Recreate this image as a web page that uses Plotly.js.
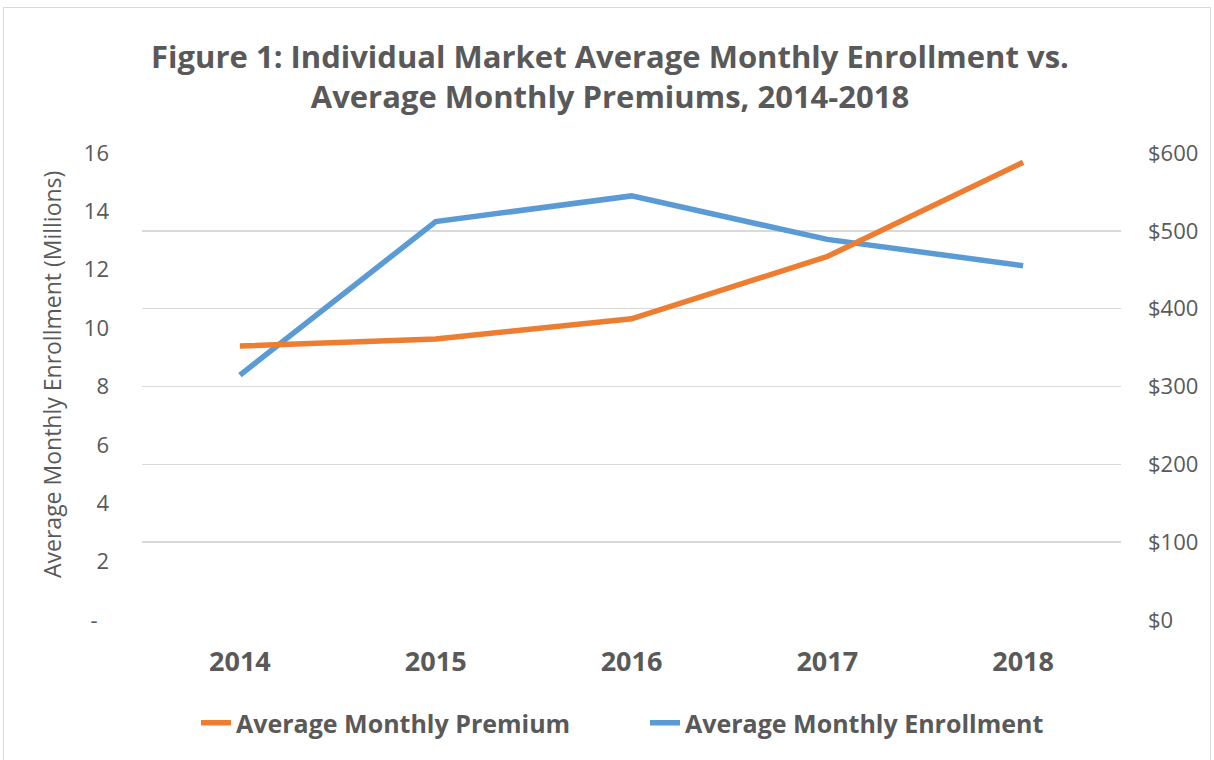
<!DOCTYPE html>
<html>
<head>
<meta charset="utf-8">
<script src="https://cdn.plot.ly/plotly-3.0.1.min.js"></script>
<style>
  html, body { margin: 0; padding: 0; background: #ffffff; }
  #wrap { position: relative; width: 1214px; height: 760px; }
  #chart { position: absolute; left: 0; top: 0; width: 1214px; height: 760px; }
  #frame { position: absolute; left: 3px; top: 7px; width: 1208px; height: 760px; border: 1px solid #d9d9d9; box-sizing: border-box; pointer-events: none; }
</style>
</head>
<body>
<div id="wrap">
  <div id="chart"></div>
  <div id="frame"></div>
</div>
<script>
const years = ["2014", "2015", "2016", "2017", "2018"];
const enrollment = [8.39, 13.65, 14.53, 13.04, 12.14];   // millions (left axis)
const premium = [352, 361, 387, 467, 588];               // dollars (right axis)
const leftTickVals = [0, 2, 4, 6, 8, 10, 12, 14, 16];
const leftTickText = ["-\u00a0\u00a0", "2", "4", "6", "8", "10", "12", "14", "16"];
const rightTickVals = [0, 100, 200, 300, 400, 500, 600];
const rightTickText = ["$0", "$100", "$200", "$300", "$400", "$500", "$600"];

const FONT = "'Open Sans', sans-serif";
const GREY = "#595959";

const traces = [
  {
    x: years, y: premium, name: "Average Monthly Premium",
    type: "scatter", mode: "lines", yaxis: "y2",
    line: { color: "#ED7D31", width: 5.5 }
  },
  {
    x: years, y: enrollment, name: "Average Monthly Enrollment",
    type: "scatter", mode: "lines", yaxis: "y",
    line: { color: "#5B9BD5", width: 5.5 }
  }
];

const layout = {
  width: 1214, height: 760,
  paper_bgcolor: "rgba(0,0,0,0)", plot_bgcolor: "rgba(0,0,0,0)",
  margin: { l: 142, r: 93, t: 153, b: 140 },
  font: { family: FONT, color: GREY, size: 22 },
  title: {
    text: "<b>Figure 1: Individual Market Average Monthly Enrollment vs.<br>Average Monthly Premiums, 2014-2018</b>",
    font: { family: FONT, size: 31, color: GREY },
    x: 610 / 1214, xref: "container", xanchor: "center",
    y: 1 - 68 / 760, yref: "container", yanchor: "middle"
  },
  xaxis: {
    type: "category", range: [-0.5, 4.5],
    showgrid: false, zeroline: false, showline: false,
    ticks: "", ticklabelstandoff: 23,
    tickfont: { family: FONT, size: 27, color: GREY, weight: "bold" }
  },
  yaxis: {
    range: [0, 16], tickvals: leftTickVals, ticktext: leftTickText,
    showgrid: false, zeroline: false, showline: false,
    ticks: "", ticklabelstandoff: 32,
    tickfont: { family: FONT, size: 22, color: GREY }
  },
  yaxis2: {
    range: [0, 600], tickvals: rightTickVals, ticktext: rightTickText,
    overlaying: "y", side: "right",
    showgrid: true, gridcolor: "#d9d9d9", gridwidth: 1.5,
    zeroline: false, showline: false,
    ticks: "", ticklabelstandoff: 26,
    tickfont: { family: FONT, size: 22, color: GREY }
  },
  annotations: [
    {
      text: "Average Monthly Enrollment (Millions)",
      textangle: -90,
      xref: "paper", yref: "paper",
      x: (52 - 142) / 979, y: (620 - 375) / 467,
      xanchor: "center", yanchor: "middle",
      showarrow: false,
      font: { family: FONT, size: 23, color: GREY }
    }
  ],
  showlegend: true,
  legend: {
    orientation: "h",
    x: 196 / 1214, xref: "container", xanchor: "left",
    y: 1 - 723 / 760, yref: "container", yanchor: "middle",
    font: { family: FONT, size: 25, color: GREY, weight: "bold" },
    entrywidth: 404, entrywidthmode: "pixels",
    itemwidth: 30
  }
};

Plotly.newPlot("chart", traces, layout, { displayModeBar: false, staticPlot: true });
</script>
</body>
</html>
